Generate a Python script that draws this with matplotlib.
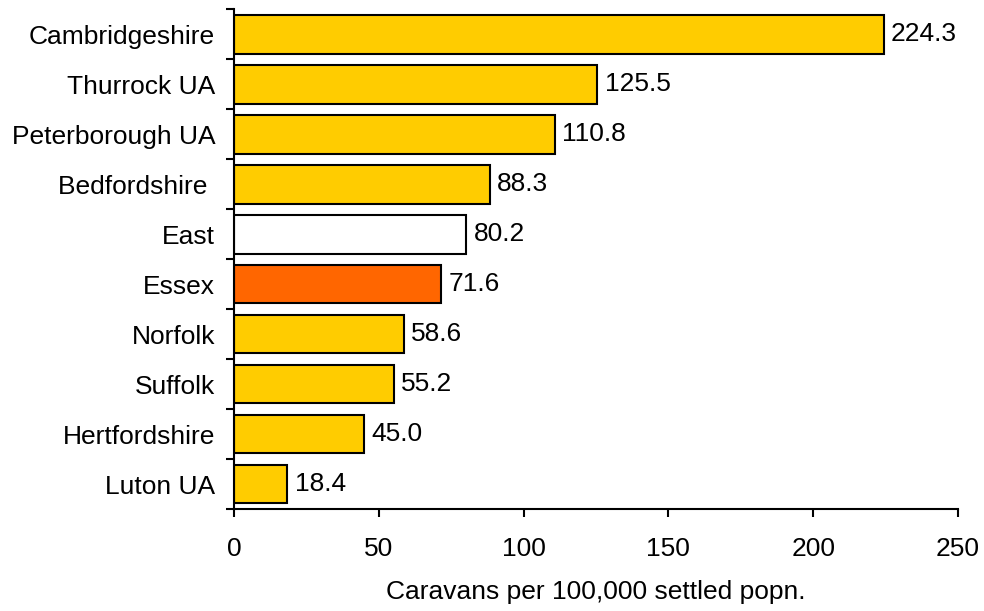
import matplotlib.pyplot as plt
import numpy as np

plt.rcParams["font.family"] = ["Liberation Sans", "DejaVu Sans"]

areas = ["Cambridgeshire", "Thurrock UA", "Peterborough UA", "Bedfordshire ",
         "East", "Essex", "Norfolk", "Suffolk", "Hertfordshire", "Luton UA"]
values = [224.3, 125.5, 110.8, 88.3, 80.2, 71.6, 58.6, 55.2, 45.0, 18.4]
colors = ["#FFCC00", "#FFCC00", "#FFCC00", "#FFCC00", "#FFFFFF",
          "#FF6600", "#FFCC00", "#FFCC00", "#FFCC00", "#FFCC00"]

fig = plt.figure(figsize=(9.84, 6.11), dpi=100)
ax = fig.add_axes([0.2378, 0.1669, 0.7358, 0.8176])

y = np.arange(len(areas))
ax.barh(y, values, height=0.77, color=colors, edgecolor="black", linewidth=1.5)

for yi, v in zip(y, values):
    ax.text(v + 2.5, yi, f"{v:.1f}", va="center", ha="left", fontsize=19)

ax.set_ylim(len(areas) - 0.5, -0.5)
ax.set_xlim(0, 250)
ax.set_xticks([0, 50, 100, 150, 200, 250])
ax.tick_params(axis="x", labelsize=19, direction="out", length=6, width=1.5, pad=14)

ax.set_yticks(y)
ax.set_yticklabels(areas, fontsize=19)
ax.tick_params(axis="y", which="major", length=0, pad=13.5)
ax.set_yticks(np.arange(-0.5, len(areas), 1), minor=True)
ax.tick_params(axis="y", which="minor", direction="out", length=6, width=1.5)

for s in ["top", "right"]:
    ax.spines[s].set_visible(False)
for s in ["left", "bottom"]:
    ax.spines[s].set_linewidth(1.5)

ax.set_xlabel("Caravans per 100,000 settled popn.", fontsize=19, labelpad=14)

fig.savefig("out.png", dpi=100)
